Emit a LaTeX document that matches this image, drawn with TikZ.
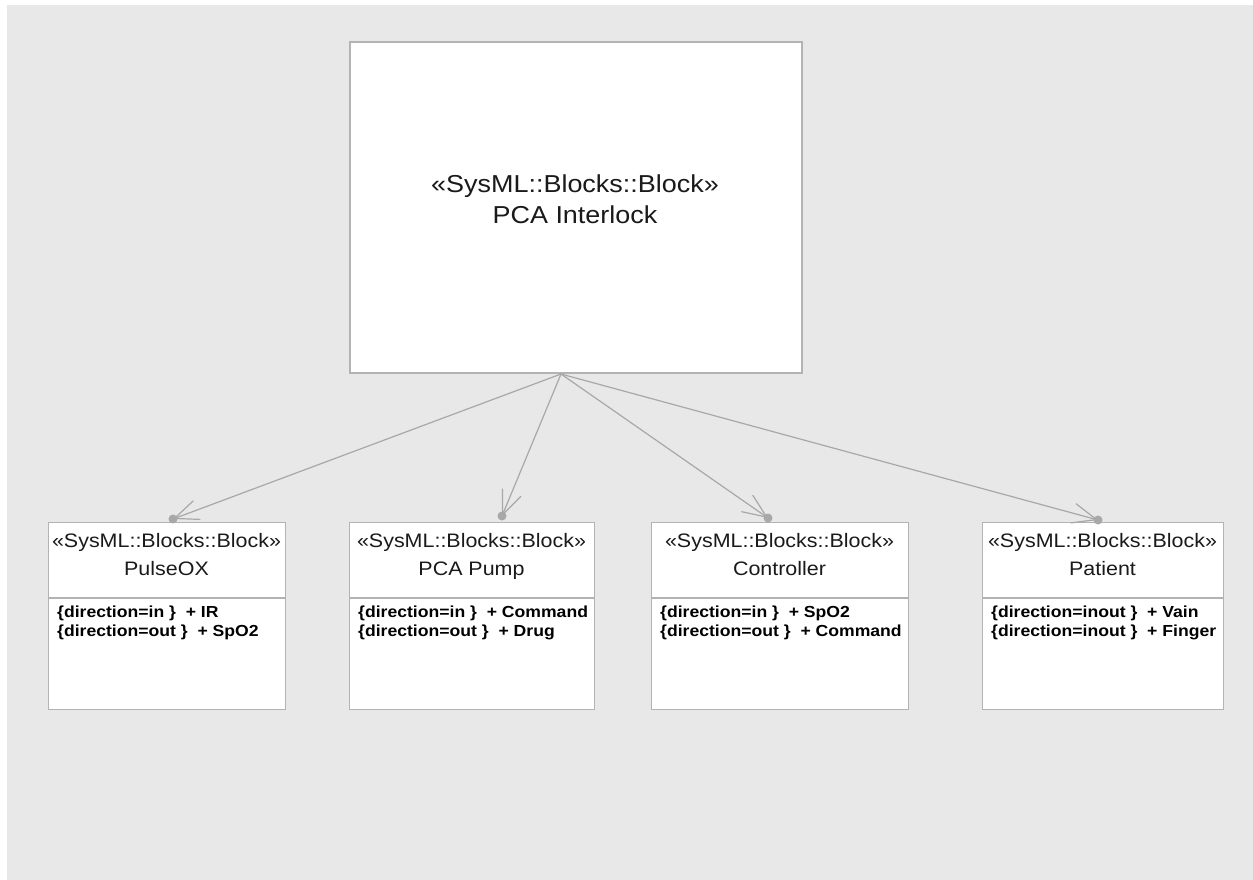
\documentclass[tikz,border=0pt]{standalone}
\usepackage{fontspec}
\setmainfont{Liberation Sans}[FakeStretch=1.1]
\usetikzlibrary{arrows.meta}
\definecolor{canvas}{HTML}{E8E8E8}
\definecolor{edge}{HTML}{B3B3B3}
\definecolor{wire}{HTML}{A8A8A8}
\definecolor{ink}{HTML}{1A1A1A}
\begin{document}
\begin{tikzpicture}[x=1pt,y=-1pt,
  block/.style={draw=edge, fill=white, line width=1.2pt, rectangle, inner sep=0pt,
                anchor=north west, minimum height=187pt},
  bigtitle/.style={font=\fontsize{24.5}{29}\selectfont, text=ink, inner sep=0pt, anchor=base},
  title/.style={font=\fontsize{19.5}{24}\selectfont, text=ink, inner sep=0pt, anchor=base},
  port/.style={font=\bfseries\fontsize{16}{19}\selectfont, text=black, inner sep=0pt, anchor=base west},
  conn/.style={draw=wire, line width=1.2pt, -{Straight Barb[length=24pt,width=20pt]}},
  dot/.style={circle, fill=wire, inner sep=0pt, minimum size=9pt}
]
% canvas
\useasboundingbox (0,0) rectangle (1253,880);
\fill[white] (0,0) rectangle (1253,880);
\fill[canvas] (7,5) rectangle (1253,880);

% main block
\node[block, line width=2pt, minimum width=452pt, minimum height=331pt] (pca) at (349,41) {};
\node[bigtitle] (pcaS) at (575,192) {«SysML::Blocks::Block»};
\node[bigtitle] (pcaN) at (575,223) {PCA Interlock};

% part blocks
\node[block, minimum width=237pt] (pulse) at (48,522) {};
\node[block, minimum width=245pt] (pump) at (349,522) {};
\node[block, minimum width=257pt] (ctrl) at (651,522) {};
\node[block, minimum width=241pt] (pat) at (982,522) {};

% compartment dividers
\foreach \b in {pulse,pump,ctrl,pat}{
  \draw[edge, line width=1.2pt] ([yshift=-76pt]\b.north west) -- ([yshift=-76pt]\b.north east);
}

% block headings
\node[title] (pulseS) at (166.5,547) {«SysML::Blocks::Block»};
\node[title] (pulseN) at (166.5,575) {PulseOX};
\node[title] (pumpS) at (471.5,547) {«SysML::Blocks::Block»};
\node[title] (pumpN) at (471.5,575) {PCA Pump};
\node[title] (ctrlS) at (779.5,547) {«SysML::Blocks::Block»};
\node[title] (ctrlN) at (779.5,575) {Controller};
\node[title] (patS) at (1102.5,547) {«SysML::Blocks::Block»};
\node[title] (patN) at (1102.5,575) {Patient};

% flow ports
\node[port] (pulseP1) at (57,617) {\{direction=in \}\ \ + IR};
\node[port] (pulseP2) at (57,636) {\{direction=out \}\ \ + SpO2};
\node[port] (pumpP1) at (358,617) {\{direction=in \}\ \ + Command};
\node[port] (pumpP2) at (358,636) {\{direction=out \}\ \ + Drug};
\node[port] (ctrlP1) at (660,617) {\{direction=in \}\ \ + SpO2};
\node[port] (ctrlP2) at (660,636) {\{direction=out \}\ \ + Command};
\node[port] (patP1) at (991,617) {\{direction=inout \}\ \ + Vain};
\node[port] (patP2) at (991,636) {\{direction=inout \}\ \ + Finger};

% composition connectors
\coordinate (src) at ([xshift=212pt]pca.south west);
\coordinate (pulseEnd) at ([xshift=125pt,yshift=3pt]pulse.north west);
\coordinate (pumpEnd) at ([xshift=153pt,yshift=6pt]pump.north west);
\coordinate (ctrlEnd) at ([xshift=117pt,yshift=4pt]ctrl.north west);
\coordinate (patEnd) at ([xshift=116pt,yshift=2pt]pat.north west);
\foreach \e in {pulseEnd,pumpEnd,ctrlEnd,patEnd}{
  \draw[conn] (src) -- (\e);
  \node[dot] at (\e) {};
}
\end{tikzpicture}
\end{document}
